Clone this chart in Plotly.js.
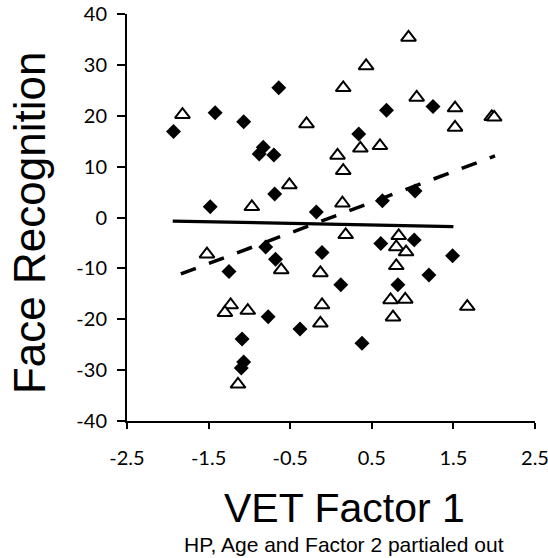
<!DOCTYPE html>
<html>
<head>
<meta charset="utf-8">
<script src="https://cdn.plot.ly/plotly-3.0.1.min.js"></script>
<style>html,body{margin:0;padding:0;background:#fff;}#chart{width:548px;height:558px;}</style>
</head>
<body>
<div id="chart"></div>
<script>
// Series 1: filled diamonds
const diamondX = [-1.93, -1.42, -1.07, -0.64, -0.88, -0.83, -0.70, -0.69, -1.48, -0.18,
                  0.68, 1.25, 0.34, 1.03, 0.63, -0.80, -0.68, -1.25, -0.11, -0.77,
                  -0.38, -1.09, -1.07, -1.10, 0.61, 1.02, 1.49, 0.12, 1.20, 0.82, 0.38];
const diamondY = [16.9, 20.6, 18.8, 25.5, 12.5, 13.8, 12.3, 4.6, 2.1, 1.1,
                  21.1, 21.8, 16.4, 5.2, 3.3, -5.8, -8.2, -10.6, -6.9, -19.5,
                  -21.9, -23.9, -28.4, -29.6, -5.1, -4.4, -7.5, -13.2, -11.3, -13.2, -24.7];
// Series 2: open triangles
const triangleX = [-1.82, -0.30, -0.51, -0.97, 0.95, 0.43, 0.15, 1.05, 1.52, 1.52,
                   1.97, 2.00, 0.36, 0.60, 0.08, 0.15, 0.14, -1.52, -0.61, -0.13,
                   -1.23, -1.30, -1.02, -0.11, -0.13, -1.14, 0.18, 0.83, 0.80, 0.92,
                   0.80, 0.73, 0.91, 0.76, 1.67];
const triangleY = [20.2, 18.4, 6.4, 2.1, 35.4, 29.8, 25.5, 23.6, 21.5, 17.7,
                   19.8, 19.7, 13.6, 14.1, 12.2, 9.2, 2.8, -7.2, -10.3, -10.9,
                   -17.2, -18.7, -18.3, -17.2, -20.8, -32.8, -3.4, -3.6, -5.8, -6.8,
                   -9.5, -16.2, -16.1, -19.6, -17.5];
// Linear trend lines (endpoints)
const trendDiamondX = [-1.94, 1.50];
const trendDiamondY = [-0.7, -1.8];
const trendTriangleX = [-1.84, 2.01];
const trendTriangleY = [-11.1, 12.1];
// Ticks and labels
const xTickVals = [-2.5, -1.5, -0.5, 0.5, 1.5, 2.5];
const xTickText = ["-2.5", "-1.5", "-0.5", "0.5", "1.5", "2.5"];
const yTickVals = [-40, -30, -20, -10, 0, 10, 20, 30, 40];
const yTickText = ["-40", "-30", "-20", "-10", "0", "10", "20", "30", "40"];
const xTitle = "VET Factor 1";
const xSubtitle = "HP, Age and Factor 2 partialed out";
const yTitle = "Face Recognition";

const traces = [
  {x: diamondX, y: diamondY, type: 'scatter', mode: 'markers', name: 'Series 1',
   marker: {symbol: 'diamond', size: 11.5, color: '#000000', line: {width: 0}}},
  {x: triangleX, y: triangleY, type: 'scatter', mode: 'markers', name: 'Series 2',
   marker: {symbol: 'triangle-up', size: 13, color: '#ffffff', line: {width: 2, color: '#000000'}}},
  {x: trendDiamondX, y: trendDiamondY, type: 'scatter', mode: 'lines', name: 'Trend 1',
   line: {color: '#000000', width: 3.2}},
  {x: trendTriangleX, y: trendTriangleY, type: 'scatter', mode: 'lines', name: 'Trend 2',
   line: {color: '#000000', width: 3.5, dash: '16px,14px'}}
];

const tickFont = {family: 'Lato, "Open Sans", sans-serif', size: 20, color: '#000000'};
const layout = {
  width: 548, height: 558,
  margin: {l: 127, r: 13, t: 14, b: 137, pad: 0},
  paper_bgcolor: '#ffffff', plot_bgcolor: '#ffffff',
  showlegend: false,
  xaxis: {
    range: [-2.5, 2.5], tickmode: 'array', tickvals: xTickVals, ticktext: xTickText,
    ticks: 'outside', ticklen: 6, tickwidth: 2, tickcolor: '#000000',
    showline: true, linewidth: 2, linecolor: '#000000',
    showgrid: false, zeroline: false, tickfont: tickFont, ticklabelstandoff: 12,
    ticklabeloverflow: 'allow', automargin: false
  },
  yaxis: {
    range: [-40, 40], tickmode: 'array', tickvals: yTickVals, ticktext: yTickText,
    ticks: 'outside', ticklen: 8, tickwidth: 2, tickcolor: '#000000',
    showline: true, linewidth: 2, linecolor: '#000000',
    showgrid: false, zeroline: false, tickfont: tickFont, ticklabelstandoff: 6,
    ticklabeloverflow: 'allow', automargin: false
  },
  annotations: [
    {text: xTitle, xref: 'paper', yref: 'paper', x: 0.534, y: -0.2128,
     xanchor: 'center', yanchor: 'middle', showarrow: false,
     font: {family: '"Liberation Sans", Arial, sans-serif', size: 41, color: '#000000'}},
    {text: xSubtitle, xref: 'paper', yref: 'paper', x: 0.532, y: -0.3035,
     xanchor: 'center', yanchor: 'middle', showarrow: false,
     font: {family: '"Liberation Sans", Arial, sans-serif', size: 21, color: '#000000'}},
    {text: yTitle, xref: 'paper', yref: 'paper', x: -0.2377, y: 0.4865, textangle: -90,
     xanchor: 'center', yanchor: 'middle', showarrow: false,
     font: {family: '"Liberation Sans", Arial, sans-serif', size: 44, color: '#000000'}}
  ]
};

Plotly.newPlot('chart', traces, layout, {displayModeBar: false, staticPlot: true});
</script>
</body>
</html>
